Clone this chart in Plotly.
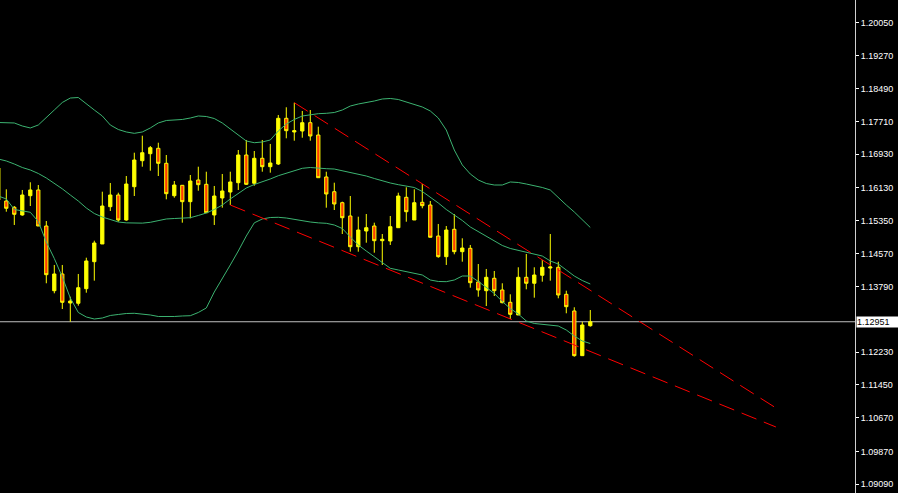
import plotly.graph_objects as go

candle_index = list(range(-1, 74))

open_ = [1.15844, 1.15820, 1.15671, 1.15488, 1.15946, 1.16082, 1.15226, 1.13689, 1.14086, 1.13397,
         1.13390, 1.13737, 1.14378, 1.14799, 1.15685, 1.15963, 1.15369, 1.16160, 1.16778, 1.16944,
         1.17072, 1.16716, 1.15946, 1.16193, 1.15804, 1.16319, 1.16217, 1.15488, 1.15892, 1.16034,
         1.16255, 1.16913, 1.16241, 1.16835, 1.16635, 1.16699, 1.17785, 1.17460, 1.17483, 1.17681,
         1.17388, 1.16391, 1.16041, 1.15780, 1.15464, 1.14734, 1.15107, 1.15226, 1.14877, 1.14870,
         1.15186, 1.15908, 1.15369, 1.15789, 1.15725, 1.14988, 1.14497, 1.15148, 1.14616, 1.14696,
         1.13897, 1.13689, 1.13984, 1.13706, 1.13413, 1.13112, 1.14007, 1.13865, 1.14055, 1.14228,
         1.14245, 1.13603, 1.13207, 1.12145, 1.12857]
high = [1.16676, 1.16098, 1.15701, 1.16082, 1.16265, 1.16200, 1.15345, 1.14300, 1.14300, 1.13546,
        1.14086, 1.14473, 1.14877, 1.16041, 1.16248, 1.16017, 1.16414, 1.16968, 1.17372, 1.17127,
        1.17205, 1.16913, 1.16295, 1.16200, 1.16438, 1.16635, 1.16516, 1.16177, 1.16462, 1.16516,
        1.17032, 1.17270, 1.17008, 1.17270, 1.17175, 1.17864, 1.18047, 1.18156, 1.17959, 1.17982,
        1.17586, 1.16516, 1.16255, 1.15804, 1.15939, 1.15447, 1.15511, 1.15305, 1.15036, 1.15464,
        1.16017, 1.16146, 1.16098, 1.16224, 1.15820, 1.15274, 1.15226, 1.15511, 1.14934, 1.14775,
        1.14323, 1.14205, 1.14157, 1.13865, 1.13603, 1.14245, 1.14561, 1.14245, 1.14418, 1.15036,
        1.14378, 1.13689, 1.13295, 1.12952, 1.13230]
low = [1.15773, 1.15566, 1.15250, 1.15471, 1.15701, 1.15226, 1.13865, 1.13627, 1.13254, 1.12952,
       1.13333, 1.13641, 1.13927, 1.14799, 1.15583, 1.15328, 1.15352, 1.15939, 1.16635, 1.16540,
       1.16414, 1.15860, 1.15899, 1.15305, 1.15409, 1.16065, 1.15542, 1.15250, 1.15661, 1.15725,
       1.16082, 1.16200, 1.16184, 1.16516, 1.16493, 1.16676, 1.17310, 1.17253, 1.17324, 1.17253,
       1.16374, 1.15661, 1.15606, 1.15036, 1.14616, 1.14616, 1.14829, 1.14592, 1.14300, 1.14775,
       1.15186, 1.15328, 1.15369, 1.15647, 1.14958, 1.14473, 1.14300, 1.14554, 1.14378, 1.13760,
       1.13546, 1.13325, 1.13563, 1.13390, 1.13016, 1.13112, 1.13722, 1.13523, 1.13903, 1.13927,
       1.13508, 1.13152, 1.12121, 1.12145, 1.12834]
close = [1.16604, 1.15647, 1.15504, 1.15963, 1.16082, 1.15226, 1.14069, 1.14086, 1.13413, 1.13444,
         1.13760, 1.14395, 1.14822, 1.15701, 1.15963, 1.15369, 1.16224, 1.16794, 1.16968, 1.17087,
         1.16716, 1.15994, 1.16200, 1.15804, 1.16295, 1.16208, 1.15542, 1.15939, 1.16058, 1.16272,
         1.16913, 1.16217, 1.16835, 1.16635, 1.16723, 1.17785, 1.17491, 1.17491, 1.17681, 1.17365,
         1.16374, 1.15987, 1.15749, 1.15423, 1.14734, 1.15131, 1.15186, 1.14877, 1.14910, 1.15210,
         1.15939, 1.15566, 1.15780, 1.15709, 1.14958, 1.14497, 1.15131, 1.14616, 1.14703, 1.13879,
         1.13706, 1.14007, 1.13689, 1.13404, 1.13128, 1.14007, 1.13865, 1.14062, 1.14245, 1.14252,
         1.13587, 1.13309, 1.12145, 1.12874, 1.12951]

bb_upper = [1.17685, 1.17681, 1.17674, 1.17602, 1.17555, 1.17626, 1.17816, 1.17982, 1.18161, 1.18267,
            1.18279, 1.18125, 1.17982, 1.17840, 1.17626, 1.17519, 1.17460, 1.17428, 1.17460, 1.17555,
            1.17674, 1.17733, 1.17745, 1.17757, 1.17792, 1.17840, 1.17828, 1.17780, 1.17674, 1.17531,
            1.17376, 1.17246, 1.17205, 1.17222, 1.17270, 1.17483, 1.17650, 1.17757, 1.17840, 1.17876,
            1.17895, 1.17904, 1.17923, 1.17982, 1.18077, 1.18125, 1.18156, 1.18196, 1.18244, 1.18256,
            1.18232, 1.18172, 1.18113, 1.18054, 1.17959, 1.17792, 1.17507, 1.17032, 1.16676, 1.16462,
            1.16319, 1.16236, 1.16200, 1.16200, 1.16272, 1.16260, 1.16224, 1.16188, 1.16141, 1.16082,
            1.15892, 1.15725, 1.15559, 1.15369, 1.15191]
bb_middle = [1.16818, 1.16771, 1.16699, 1.16616, 1.16557, 1.16474, 1.16367, 1.16248, 1.16109, 1.15963,
             1.15820, 1.15654, 1.15523, 1.15440, 1.15381, 1.15321, 1.15301, 1.15294, 1.15294, 1.15314,
             1.15357, 1.15393, 1.15404, 1.15416, 1.15423, 1.15476, 1.15535, 1.15618, 1.15725, 1.15868,
             1.15998, 1.16129, 1.16212, 1.16272, 1.16343, 1.16421, 1.16485, 1.16545, 1.16597, 1.16616,
             1.16597, 1.16588, 1.16580, 1.16540, 1.16493, 1.16455, 1.16414, 1.16355, 1.16295, 1.16248,
             1.16208, 1.16177, 1.16141, 1.16046, 1.15915, 1.15773, 1.15618, 1.15488, 1.15357, 1.15203,
             1.15096, 1.14976, 1.14870, 1.14763, 1.14692, 1.14644, 1.14609, 1.14561, 1.14513, 1.14395,
             1.14323, 1.14181, 1.14038, 1.13931, 1.13848]
bb_lower = [1.15939, 1.15868, 1.15618, 1.15583, 1.15552, 1.15333, 1.14846, 1.14454, 1.14015, 1.13516,
            1.13171, 1.13064, 1.13016, 1.13040, 1.13100, 1.13124, 1.13147, 1.13152, 1.13135, 1.13112,
            1.13076, 1.13071, 1.13076, 1.13088, 1.13095, 1.13171, 1.13278, 1.13658, 1.13967, 1.14300,
            1.14632, 1.14988, 1.15301, 1.15393, 1.15428, 1.15433, 1.15416, 1.15381, 1.15345, 1.15321,
            1.15301, 1.15290, 1.15250, 1.15167, 1.14965, 1.14775, 1.14632, 1.14490, 1.14347, 1.14221,
            1.14181, 1.14140, 1.14109, 1.14062, 1.13943, 1.13908, 1.13903, 1.13943, 1.14038, 1.14038,
            1.13908, 1.13765, 1.13624, 1.13432, 1.13266, 1.13135, 1.12969, 1.12910, 1.12886, 1.12874,
            1.12850, 1.12755, 1.12612, 1.12494, 1.12434]

trend_upper_x = [36, 96.8]
trend_upper_y = [1.18156, 1.10831]
trend_lower_x = [28, 96.2]
trend_lower_y = [1.15725, 1.10451]

current_price = 1.12951
tick_values = [1.20050, 1.19270, 1.18490, 1.17710, 1.16930, 1.16130, 1.15350,
               1.14570, 1.13790, 1.12230, 1.11450, 1.10670, 1.09870, 1.09090]
tick_labels = ["%.5f" % v for v in tick_values]

band_color = "#3cb371"
fig = go.Figure()

fig.add_trace(go.Candlestick(
    x=candle_index, open=open_, high=high, low=low, close=close,
    increasing=dict(line=dict(color="#ffff00", width=1), fillcolor="#ffff00"),
    decreasing=dict(line=dict(color="#ffff00", width=1), fillcolor="#ff3c00"),
    whiskerwidth=0, showlegend=False, hoverinfo="skip",
))
for band in (bb_upper, bb_middle, bb_lower):
    fig.add_trace(go.Scatter(x=candle_index, y=band, mode="lines",
                             line=dict(color=band_color, width=1),
                             showlegend=False, hoverinfo="skip"))
for tx, ty in ((trend_upper_x, trend_upper_y), (trend_lower_x, trend_lower_y)):
    fig.add_trace(go.Scatter(x=tx, y=ty, mode="lines",
                             line=dict(color="#ff0000", width=1, dash="16px,8px"),
                             showlegend=False, hoverinfo="skip"))

fig.add_shape(type="line", xref="paper", x0=0, x1=1, yref="y",
              y0=current_price, y1=current_price,
              line=dict(color="#c0c0c0", width=1), layer="below")

fig.add_annotation(xref="paper", x=1, xanchor="left", xshift=1,
                   yref="y", y=current_price, yanchor="middle",
                   text="%.5f" % current_price, showarrow=False,
                   bgcolor="#ffffff", font=dict(color="#000000", size=9, family="Liberation Sans"),
                   width=41, height=10, borderpad=0, align="left")

fig.update_layout(
    width=898, height=493,
    margin=dict(l=0, r=43, t=0, b=0),
    paper_bgcolor="#000000", plot_bgcolor="#000000",
    boxgap=0.42,
    xaxis=dict(range=[-0.7875, 106.09], visible=False, rangeslider=dict(visible=False),
               showgrid=False, zeroline=False),
    yaxis=dict(side="right", range=[1.08882, 1.20596], tickmode="array",
               tickvals=tick_values, ticktext=tick_labels,
               showgrid=False, zeroline=False, ticks="outside", ticklen=3,
               tickcolor="#ffffff", showline=True, linecolor="#d0d0d0", linewidth=1,
               tickfont=dict(size=9, color="#ffffff", family="Liberation Sans"),
               automargin=False),
    showlegend=False,
)

fig.write_html("out.html", config={"displayModeBar": False},
               post_script="document.body.style.margin='0';document.body.style.background='#000';document.body.style.overflow='hidden';")
